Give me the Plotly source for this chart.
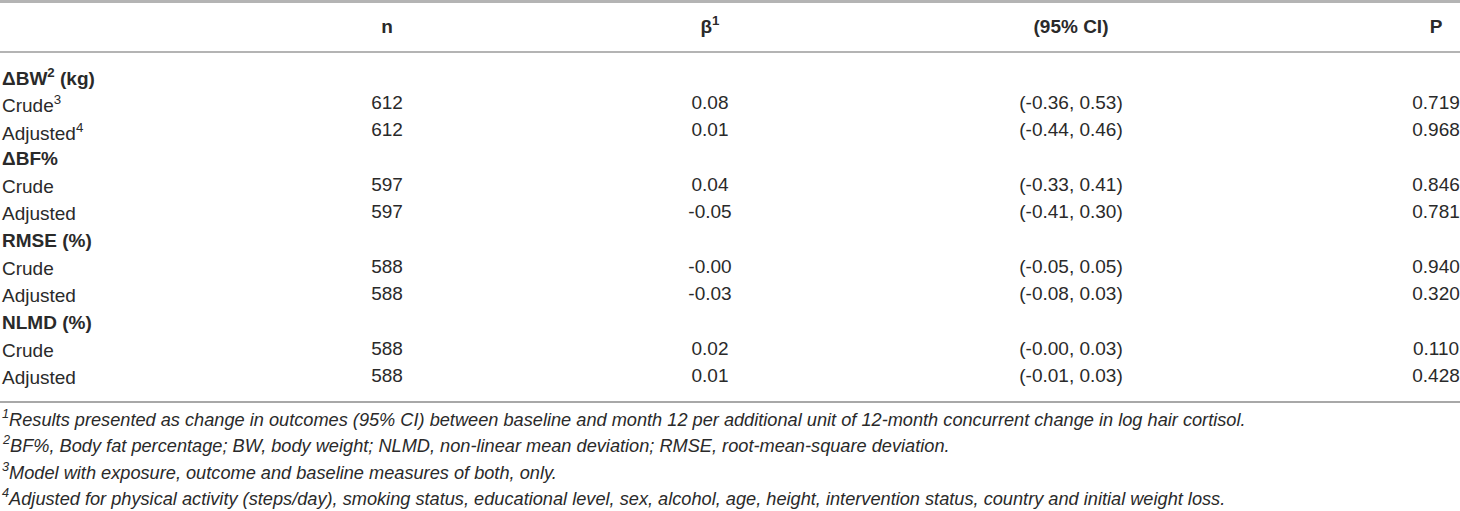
import plotly.graph_objects as go

# table content
headers = ["n", "β<sup>1</sup>", "(95% CI)", "P"]
row_labels = ["ΔBW<sup>2</sup> (kg)", "Crude<sup>3</sup>", "Adjusted<sup>4</sup>",
              "ΔBF%", "Crude", "Adjusted",
              "RMSE (%)", "Crude", "Adjusted",
              "NLMD (%)", "Crude", "Adjusted"]
is_heading = [True, False, False, True, False, False, True, False, False, True, False, False]
n_values = ["", "612", "612", "", "597", "597", "", "588", "588", "", "588", "588"]
beta_values = ["", "0.08", "0.01", "", "0.04", "-0.05", "", "-0.00", "-0.03", "", "0.02", "0.01"]
ci_values = ["", "(-0.36, 0.53)", "(-0.44, 0.46)", "", "(-0.33, 0.41)", "(-0.41, 0.30)",
             "", "(-0.05, 0.05)", "(-0.08, 0.03)", "", "(-0.00, 0.03)", "(-0.01, 0.03)"]
p_values = ["", "0.719", "0.968", "", "0.846", "0.781", "", "0.940", "0.320", "", "0.110", "0.428"]
footnotes = [
    "<sup>1</sup>Results presented as change in outcomes (95% CI) between baseline and month 12 per additional unit of 12-month concurrent change in log hair cortisol.",
    "<sup>2</sup>BF%, Body fat percentage; BW, body weight; NLMD, non-linear mean deviation; RMSE, root-mean-square deviation.",
    "<sup>3</sup>Model with exposure, outcome and baseline measures of both, only.",
    "<sup>4</sup>Adjusted for physical activity (steps/day), smoking status, educational level, sex, alcohol, age, height, intervention status, country and initial weight loss.",
]

W, H = 1460, 511
FONT = "Liberation Sans, Arial, Helvetica, sans-serif"
FS = 19
FS_FOOT = 18.2
TXT = "#2a2a2a"
col_x = [387, 710, 1071, 1436]
header_y = 28
row_y0, row_dy = 77, 27.3
foot_y0, foot_dy = 418, 26.3

row_y = [row_y0 + i * row_dy for i in range(len(row_labels))]

fig = go.Figure()

# header row
fig.add_trace(go.Scatter(
    x=col_x, y=[header_y] * len(headers), mode="text",
    text=["<b>%s</b>" % h for h in headers],
    textfont=dict(family=FONT, size=FS, color=TXT),
    hoverinfo="skip", showlegend=False))

# value columns (skip blank cells on heading rows)
for cx, vals in zip(col_x, [n_values, beta_values, ci_values, p_values]):
    keep = [i for i, v in enumerate(vals) if v]
    fig.add_trace(go.Scatter(
        x=[cx] * len(keep), y=[row_y[i] for i in keep], mode="text",
        text=[vals[i] for i in keep],
        textfont=dict(family=FONT, size=FS, color=TXT),
        hoverinfo="skip", showlegend=False))

annotations = []
for lab, head, y in zip(row_labels, is_heading, row_y):
    annotations.append(dict(
        x=0, y=y, xref="x", yref="y", xanchor="left", yanchor="middle",
        text="<b>%s</b>" % lab if head else lab, showarrow=False,
        font=dict(family=FONT, size=FS, color=TXT)))
for i, t in enumerate(footnotes):
    annotations.append(dict(
        x=0, y=foot_y0 + i * foot_dy, xref="x", yref="y", xanchor="left", yanchor="middle",
        text="<i>%s</i>" % t, showarrow=False,
        font=dict(family=FONT, size=FS_FOOT, color=TXT)))

shapes = [
    dict(type="line", xref="x", yref="y", x0=0, x1=W, y0=1.5, y1=1.5,
         line=dict(color="#b4b4b4", width=3)),
    dict(type="line", xref="x", yref="y", x0=0, x1=W, y0=52, y1=52,
         line=dict(color="#b4b4b4", width=2)),
    dict(type="line", xref="x", yref="y", x0=0, x1=W, y0=402, y1=402,
         line=dict(color="#a8a8a8", width=2)),
]

fig.update_layout(
    width=W, height=H, margin=dict(l=0, r=0, t=0, b=0),
    paper_bgcolor="white", plot_bgcolor="white",
    xaxis=dict(range=[0, W], visible=False, fixedrange=True),
    yaxis=dict(range=[H, 0], visible=False, fixedrange=True),
    annotations=annotations, shapes=shapes,
)

fig.write_html("out.html", config={"displayModeBar": False},
               post_script="document.body.style.margin='0px';document.body.style.overflow='hidden';")
